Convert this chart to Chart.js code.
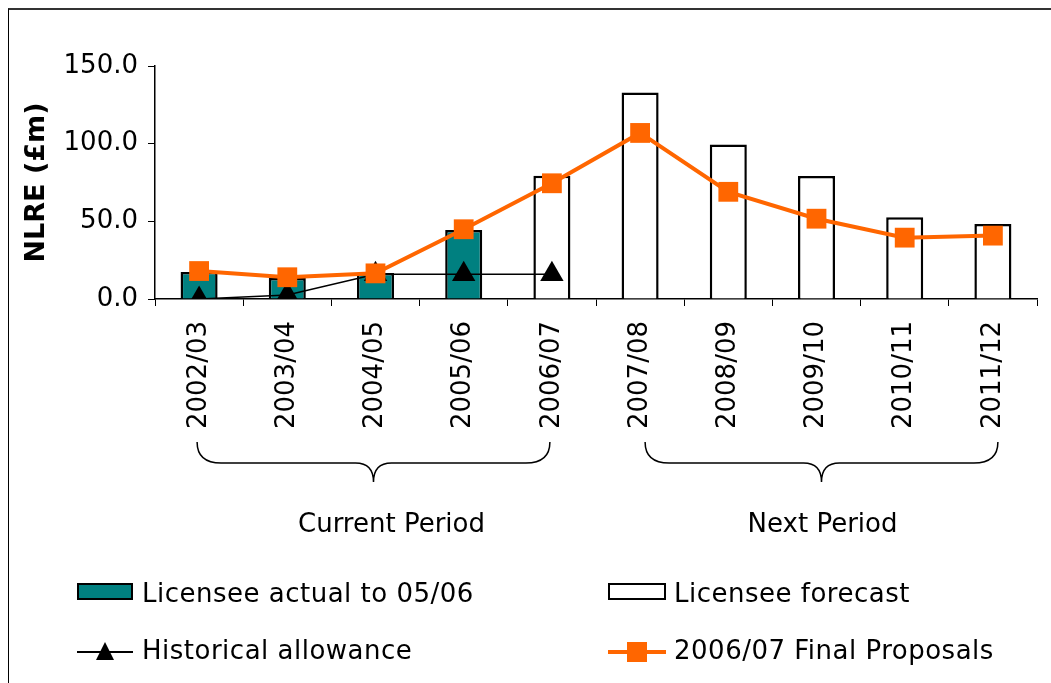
<!DOCTYPE html>
<html lang="en">
  <head>
    <meta charset="UTF-8" />
    <title>NLRE</title>
    <script src="https://cdn.jsdelivr.net/npm/chart.js"></script>
    <style>
      body { margin: 0; background: #fff; font-family: "DejaVu Sans", Verdana, sans-serif; }
      #wrap { position: relative; width: 1051px; height: 683px; overflow: hidden; }
      #frame { position: absolute; left: 8px; top: 8px; width: 1100px; height: 800px; border-top: 2px solid #333; border-left: 1px solid #000; }
      #nlre { position: absolute; left: 0; top: 0; }
      .lg { position: absolute; font-size: 26px; line-height: 30px; letter-spacing: 0.5px; color: #000; white-space: nowrap; }
      .sw { position: absolute; box-sizing: border-box; border: 2px solid #000; }
      .ln { position: absolute; }
    </style>
  </head>
  <body>
    <div id="wrap">
      <div id="frame"></div>
      <canvas id="nlre" width="1051" height="683"></canvas>

      <!-- legend -->
      <div class="sw" style="left:77px; top:583px; width:56px; height:17px; background:#008080"></div>
      <div class="lg" style="left:142px; top:578px">Licensee actual to 05/06</div>
      <div class="sw" style="left:608px; top:583px; width:58px; height:17px; background:#fff"></div>
      <div class="lg" style="left:674px; top:578px">Licensee forecast</div>

      <div class="ln" style="left:77px; top:651px; width:56px; height:2px; background:#000"></div>
      <div class="ln" style="left:96px; top:642px; width:0; height:0; border-left:9px solid transparent; border-right:9px solid transparent; border-bottom:18px solid #000"></div>
      <div class="lg" style="left:142px; top:635px">Historical allowance</div>
      <div class="ln" style="left:608px; top:650px; width:58px; height:4px; background:#ff6600"></div>
      <div class="ln" style="left:627px; top:642px; width:20px; height:20px; background:#ff6600"></div>
      <div class="lg" style="left:674px; top:635px">2006/07 Final Proposals</div>
    </div>

    <script>
      const years = ["2002/03", "2003/04", "2004/05", "2005/06", "2006/07", "2007/08", "2008/09", "2009/10", "2010/11", "2011/12"];
      const actual = [17.4, 13.5, 16.7, 44.4, null, null, null, null, null, null];
      const forecast = [null, null, null, null, 79.4, 133, 99.4, 79.2, 52.6, 48.3];
      const historical = [0, 2.6, 16, 16, 16, null, null, null, null, null];
      const proposals = [18, 14, 16.5, 44.9, 74.5, 106.9, 69, 51.7, 39.5, 40.8];
      const periods = [
        { text: "Current Period", from: 0, to: 4 },
        { text: "Next Period", from: 5, to: 9 },
      ];

      const font = "'DejaVu Sans', Verdana, sans-serif";

      // braces + period names under the rotated year labels
      const bracePlugin = {
        id: "braces",
        afterDraw(chart) {
          const ctx = chart.ctx;
          const x = chart.scales.x;
          const y0 = 442, y1 = 463, y2 = 482;
          const nudge = [-2, 5]; // the original braces sit a little off centre
          const textNudge = [18, 1];
          ctx.save();
          ctx.strokeStyle = "#000";
          ctx.lineWidth = 1.5;
          periods.forEach((p, i) => {
            const a = x.getPixelForValue(p.from) + nudge[i];
            const b = x.getPixelForValue(p.to) + nudge[i];
            const m = (a + b) / 2;
            ctx.beginPath();
            ctx.moveTo(a, y0);
            ctx.quadraticCurveTo(a, y1, a + 24, y1);
            ctx.lineTo(m - 18, y1);
            ctx.quadraticCurveTo(m, y1, m, y2);
            ctx.quadraticCurveTo(m, y1, m + 18, y1);
            ctx.lineTo(b - 24, y1);
            ctx.quadraticCurveTo(b, y1, b, y0);
            ctx.stroke();

            ctx.fillStyle = "#000";
            ctx.font = "26px " + font;
            ctx.textAlign = "center";
            ctx.textBaseline = "alphabetic";
            ctx.fillText(p.text, m + textNudge[i], 532);
          });
          ctx.restore();
        },
      };

      new Chart(document.getElementById("nlre"), {
        type: "bar",
        data: {
          labels: years,
          datasets: [
            {
              label: "2006/07 Final Proposals",
              type: "line",
              data: proposals,
              borderColor: "#ff6600",
              backgroundColor: "#ff6600",
              borderWidth: 4,
              pointStyle: "rect",
              pointRadius: 14,
              pointBorderWidth: 0,
              tension: 0,
              order: 0,
            },
            {
              label: "Historical allowance",
              type: "line",
              data: historical,
              borderColor: "#000",
              backgroundColor: "#000",
              borderWidth: 1.5,
              pointStyle: "triangle",
              pointRadius: 13.5,
              pointBorderWidth: 0,
              tension: 0,
              order: 1,
            },
            {
              label: "Licensee actual to 05/06",
              data: actual,
              backgroundColor: "#008080",
              borderColor: "#000",
              borderWidth: 2.5,
              order: 2,
            },
            {
              label: "Licensee forecast",
              data: forecast,
              backgroundColor: "#fff",
              borderColor: "#000",
              borderWidth: 2.5,
              order: 3,
            },
          ],
        },
        options: {
          responsive: false,
          animation: false,
          layout: { padding: { left: 0, top: 66, right: 14, bottom: 0 } },
          datasets: { bar: { barPercentage: 0.42, categoryPercentage: 1 } },
          plugins: { legend: { display: false }, tooltip: { enabled: false } },
          scales: {
            x: {
              stacked: true,
              afterFit: (s) => { s.height = 384; },
              border: { color: "#000", width: 1.5 },
              grid: { drawOnChartArea: false, color: "#000", tickLength: 7 },
              ticks: {
                color: "#000",
                font: { family: font, size: 26 },
                minRotation: 90,
                maxRotation: 90,
                autoSkip: false,
                padding: 15,
              },
            },
            y: {
              min: 0,
              max: 150,
              afterFit: (s) => { s.width = 155; },
              border: { color: "#000", width: 1.5 },
              grid: { drawOnChartArea: false, color: "#000", tickLength: 7 },
              ticks: {
                stepSize: 50,
                color: "#000",
                padding: 10,
                font: { family: font, size: 26 },
                callback: (v) => v.toFixed(1),
              },
              title: {
                display: true,
                text: "NLRE (£m)",
                color: "#000",
                font: { family: font, size: 27, weight: "bold" },
                padding: { top: 21, bottom: 0 },
              },
            },
          },
        },
        plugins: [bracePlugin],
      });
    </script>
  </body>
</html>
